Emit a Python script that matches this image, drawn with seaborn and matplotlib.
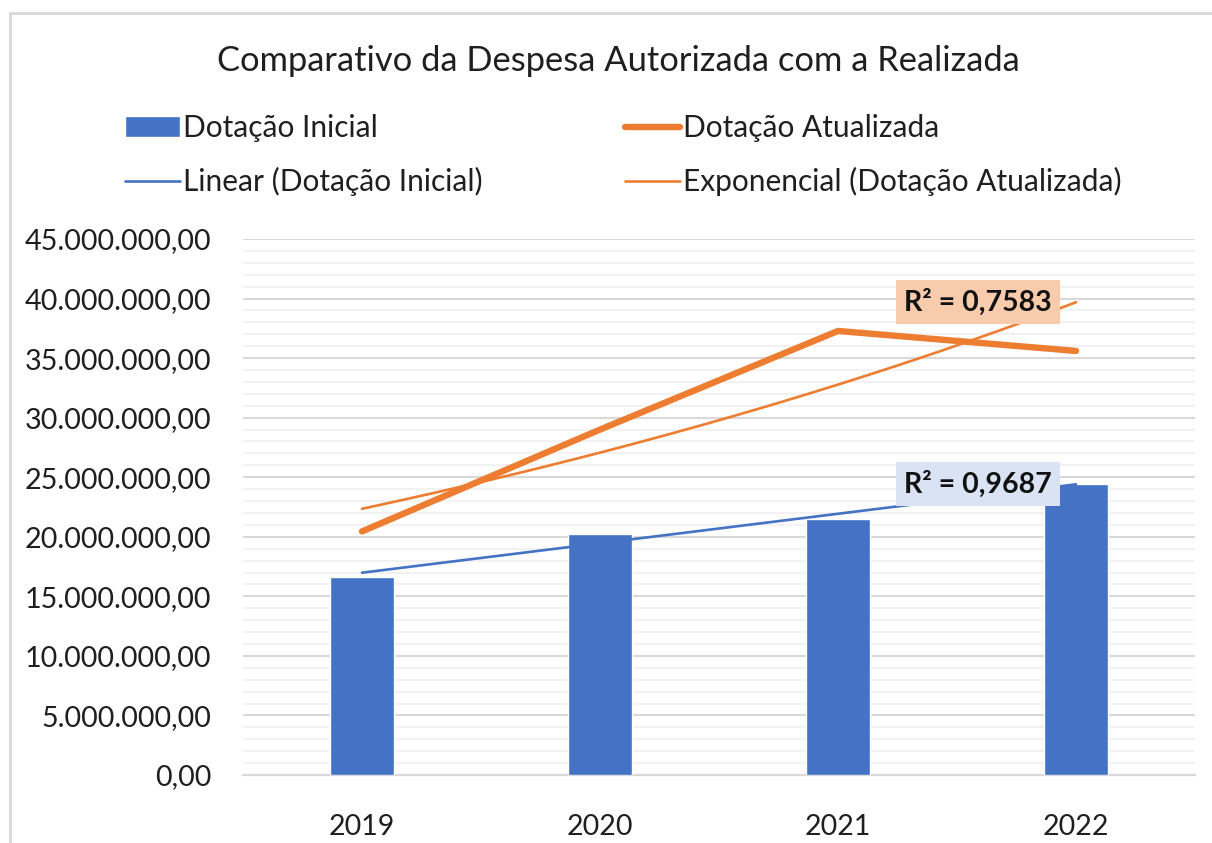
import numpy as np
import pandas as pd
import matplotlib
matplotlib.use("Agg")
import matplotlib.pyplot as plt
import matplotlib.ticker as mticker
from matplotlib.patches import Rectangle
import seaborn as sns

# Data
anos = ["2019", "2020", "2021", "2022"]
dotacao_inicial = [16_600_000, 20_250_000, 21_500_000, 24_430_000]
dotacao_atualizada = [20_450_000, 29_000_000, 37_280_000, 35_600_000]
r2_inicial = 0.9687
r2_atualizada = 0.7583

titulo = "Comparativo da Despesa Autorizada com a Realizada"
rotulos = ["Dotação Inicial", "Dotação Atualizada",
           "Linear (Dotação Inicial)", "Exponencial (Dotação Atualizada)"]

AZUL = "#4472C4"
LARANJA = "#ED7D31"
TEXTO = "#1f1f1f"

sns.set_style("white")
plt.rcParams["font.family"] = ["Lato", "DejaVu Sans"]

fig = plt.figure(figsize=(12.12, 8.43), dpi=100)
ax = fig.add_axes([243 / 1212, 1 - 775 / 843, 952 / 1212, 536 / 843])

df = pd.DataFrame({"Ano": anos, "Inicial": dotacao_inicial, "Atualizada": dotacao_atualizada})
xpos = np.arange(len(anos))

# bars
sns.barplot(data=df, x="Ano", y="Inicial", color=AZUL, saturation=1, width=0.265,
            ax=ax, label=rotulos[0], zorder=2)

# main orange line
sns.lineplot(x=xpos, y=df["Atualizada"].values, color=LARANJA, linewidth=4.6,
             ax=ax, label=rotulos[1], zorder=4, solid_capstyle="round")

# trendlines
xs = np.linspace(0, 3, 100)
lin = np.polyfit(xpos, df["Inicial"].values, 1)
sns.lineplot(x=xs, y=np.polyval(lin, xs), color=AZUL, linewidth=1.9, ax=ax,
             label=rotulos[2], zorder=5)
expf = np.polyfit(xpos, np.log(df["Atualizada"].values), 1)
sns.lineplot(x=xs, y=np.exp(np.polyval(expf, xs)), color=LARANJA, linewidth=1.9, ax=ax,
             label=rotulos[3], zorder=5)

# axes cosmetics
ax.set_xlim(-0.5, 3.5)
ax.set_ylim(0, 45_000_000)
ax.set_xlabel("")
ax.set_ylabel("")
ax.yaxis.set_major_locator(mticker.MultipleLocator(5_000_000))
ax.yaxis.set_minor_locator(mticker.MultipleLocator(1_000_000))
ax.yaxis.set_major_formatter(mticker.FuncFormatter(
    lambda v, p: f"{v:,.2f}".replace(",", "X").replace(".", ",").replace("X", ".")))
ax.grid(axis="y", which="major", color="#d9d9d9", linewidth=1.5, zorder=0)
ax.grid(axis="y", which="minor", color="#f2f2f2", linewidth=1.5, zorder=0)
ax.set_axisbelow(True)
for s in ["top", "right", "left"]:
    ax.spines[s].set_visible(False)
ax.spines["bottom"].set_color("#d9d9d9")
ax.spines["bottom"].set_linewidth(1.6)
ax.spines["bottom"].set_zorder(1)
ax.xaxis.set_minor_locator(mticker.FixedLocator(np.arange(-0.5, 4, 1)))
ax.tick_params(axis="x", which="major", length=0, pad=28, labelsize=20.5, labelcolor=TEXTO)
ax.tick_params(axis="x", which="minor", length=7, width=1.6, color="#d9d9d9", direction="out")
ax.tick_params(axis="y", which="both", length=0, pad=23, labelsize=20.7, labelcolor=TEXTO)

# R² labels
ax.text(0.772, 0.8825, "R² = " + f"{r2_atualizada:.4f}".replace(".", ","),
        transform=ax.transAxes, ha="center", va="center", fontsize=20.5, fontweight="bold",
        color="#111111", zorder=6,
        bbox=dict(boxstyle="square,pad=0.3", facecolor="#F8CBAD", edgecolor="none"))
ax.text(0.772, 0.543, "R² = " + f"{r2_inicial:.4f}".replace(".", ","),
        transform=ax.transAxes, ha="center", va="center", fontsize=20.5, fontweight="bold",
        color="#111111", zorder=6,
        bbox=dict(boxstyle="square,pad=0.3", facecolor="#DAE3F3", edgecolor="none"))

# legend
if ax.get_legend():
    ax.get_legend().remove()
h, l = ax.get_legend_handles_labels()
order = [rotulos[0], rotulos[2], rotulos[1], rotulos[3]]
hd = dict(zip(l, h))
fig.legend([hd[k] for k in order], order, ncol=2, loc="upper left",
           bbox_to_anchor=(125 / 1212, 1 - 114 / 843), frameon=False, fontsize=21.5,
           handlelength=1.85, handletextpad=0.1, columnspacing=4.75, labelspacing=0.85,
           borderpad=0, borderaxespad=0, labelcolor=TEXTO)

fig.text(618 / 1212, 1 - 61 / 843, titulo, ha="center", va="center", fontsize=24.8, color=TEXTO)

# chart frame
fig.patches.append(Rectangle((10 / 1212, -0.05), 1.1, 1 - 13 / 843 + 0.05,
                             transform=fig.transFigure, fill=False,
                             edgecolor="#d9d9d9", linewidth=2))

fig.savefig("out.png", dpi=100)
